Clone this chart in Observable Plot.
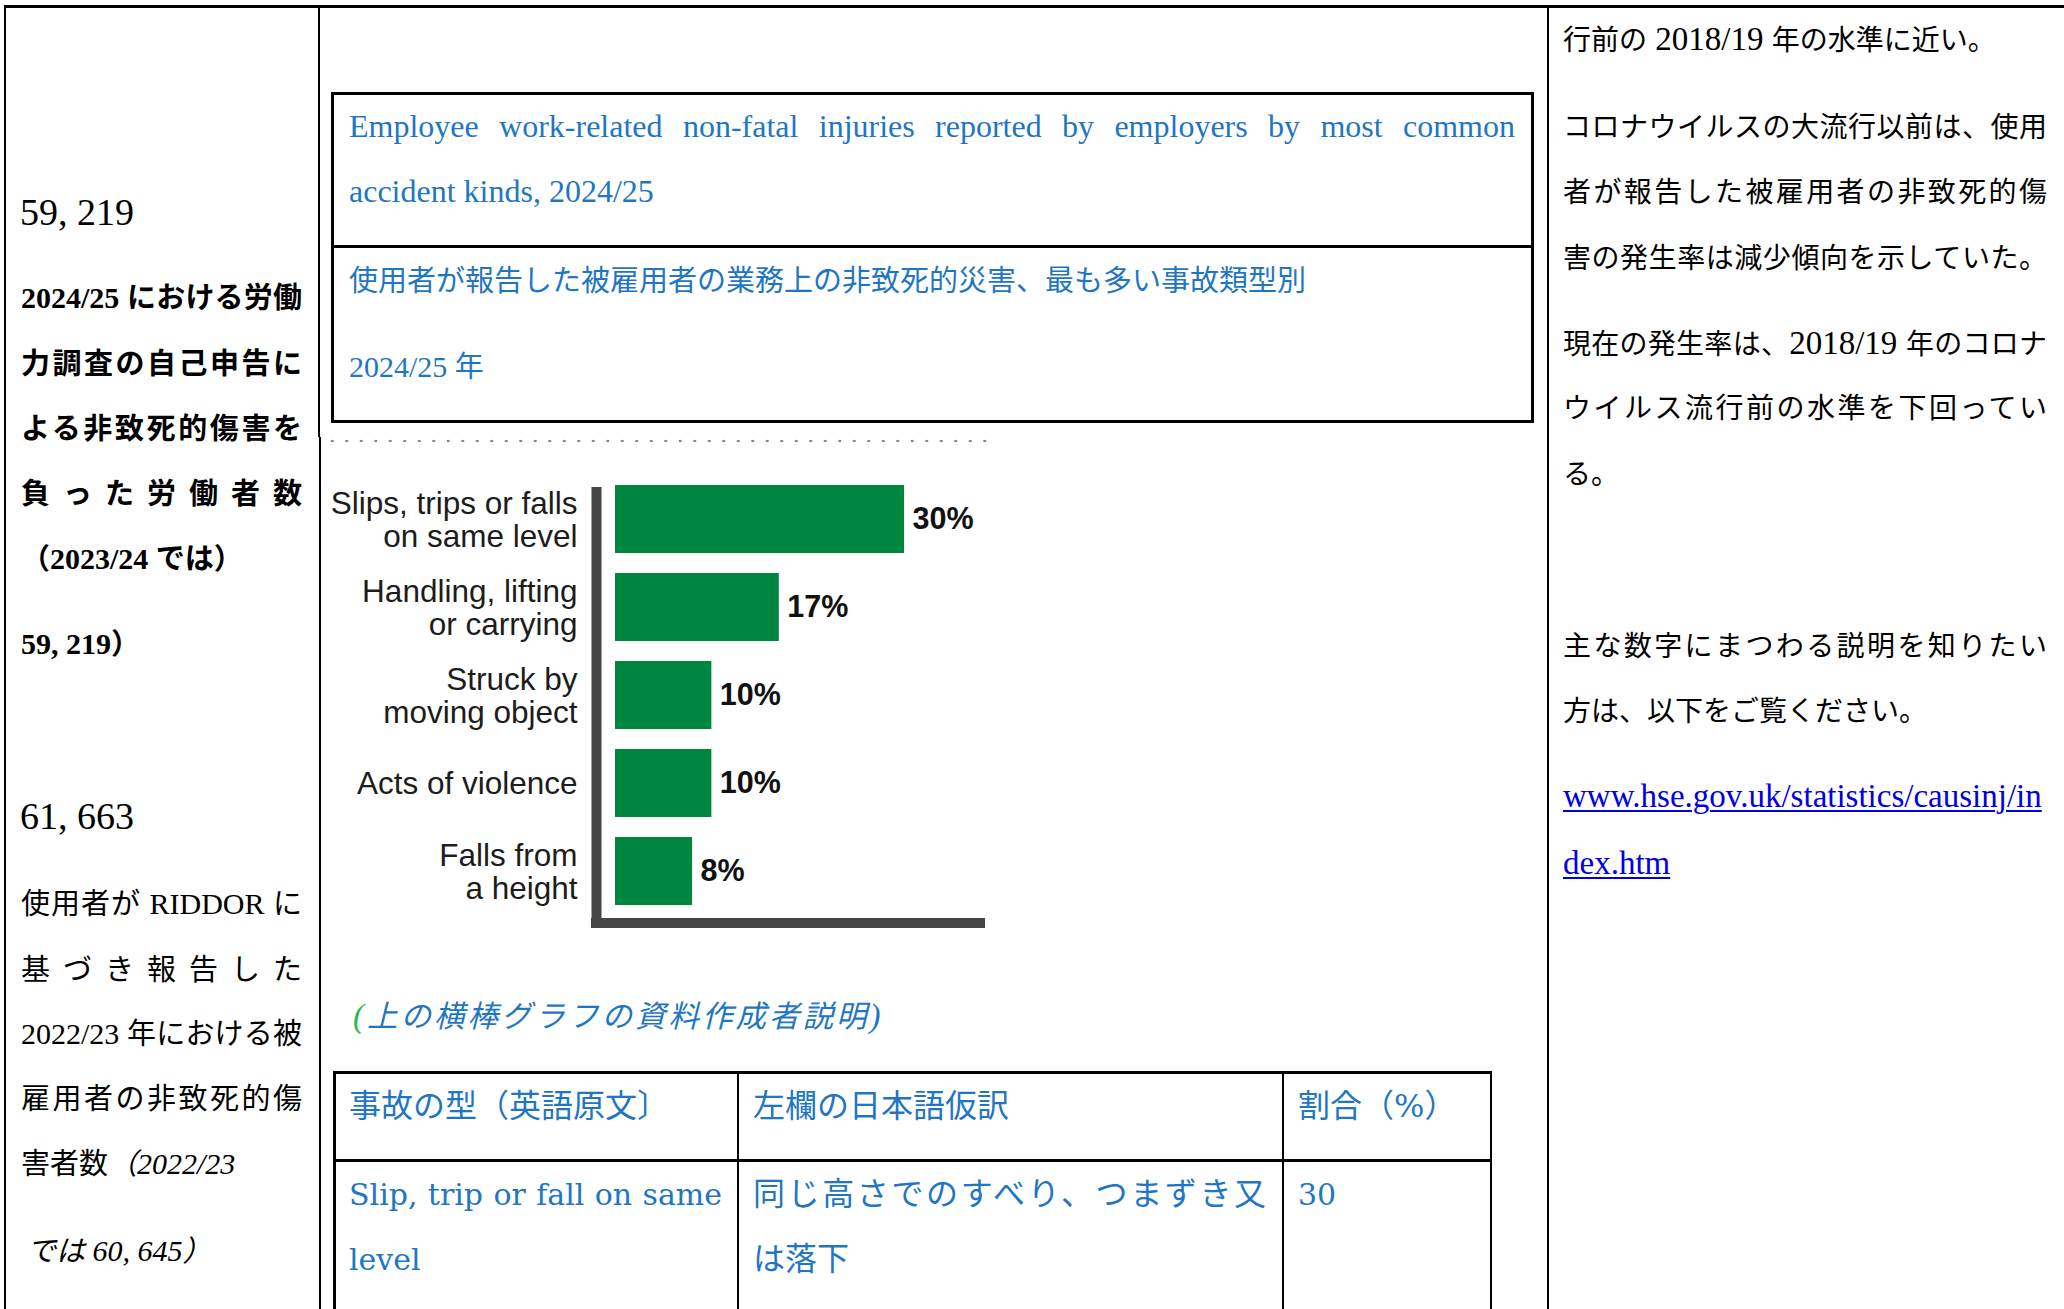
<!DOCTYPE html>
<html>
<head>
<meta charset="utf-8">
<script src="https://cdn.jsdelivr.net/npm/d3@7"></script>
<script src="https://cdn.jsdelivr.net/npm/@observablehq/plot@0.6"></script>
<style>
html, body { margin: 0; padding: 0; background: #fff; }
#page { position: relative; width: 2064px; height: 1309px; overflow: hidden; background: #fff;
  font-family: 'Noto Sans CJK JP', sans-serif; color: #000; }
.ln { position: absolute; white-space: nowrap; line-height: 40px; height: 40px; }
.j { text-align: justify; text-align-last: justify; }
.lat { font-family: 'Liberation Serif', 'Times New Roman', serif; }
.latw { font-family: 'DejaVu Serif', serif; }
.rule { position: absolute; background: #000; }
.box { position: absolute; border: 3px solid #000; box-sizing: border-box; }
</style>
</head>
<body>
<div id="page"></div>
<script>
// ---------------- chart data ----------------
const categories = [
  "Slips, trips or falls\non same level",
  "Handling, lifting\nor carrying",
  "Struck by\nmoving object",
  "Acts of violence",
  "Falls from\na height"
];
const values = [30, 17, 10, 10, 8];
const valueLabels = ["30%", "17%", "10%", "10%", "8%"];

// ---------------- page texts ----------------
const titleEnglish = [
  "Employee work-related non-fatal injuries reported by employers by most common",
  "accident kinds, 2024/25"
];
const titleJapanese = [
  "使用者が報告した被雇用者の業務上の非致死的災害、最も多い事故類型別",
  "2024/25 年"
];
const leftBlock1 = ["2024/25 における労働", "力調査の自己申告に", "よる非致死的傷害を", "負った労働者数", "（2023/24 では）", "59, 219）"];
const leftBlock2 = ["使用者が RIDDOR に", "基づき報告した", "2022/23 年における被", "雇用者の非致死的傷"];
const bigNumbers = ["59, 219", "61, 663"];
const rightLines = [
  "行前の 2018/19 年の水準に近い。",
  "コロナウイルスの大流行以前は、使用",
  "者が報告した被雇用者の非致死的傷",
  "害の発生率は減少傾向を示していた。",
  "現在の発生率は、2018/19 年のコロナ",
  "ウイルス流行前の水準を下回ってい",
  "る。",
  "主な数字にまつわる説明を知りたい",
  "方は、以下をご覧ください。"
];
const linkLines = ["www.hse.gov.uk/statistics/causinj/in", "dex.htm"];
const captionText = "上の横棒グラフの資料作成者説明";
const tableHeader = ["事故の型（英語原文〕", "左欄の日本語仮訳", "割合（%）"];
const tableRow1 = [["Slip, trip or fall on same", "level"], ["同じ高さでのすべり、つまずき又", "は落下"], ["30"]];

// ---------------- helpers ----------------
const page = document.getElementById("page");
const LH = 40;
function rule(x, y, w, h) {
  const d = document.createElement("div");
  d.className = "rule";
  Object.assign(d.style, {left: x + "px", top: y + "px", width: w + "px", height: h + "px"});
  page.appendChild(d);
}
function place({x, base, w, segs, size, lat, latClass = "lat", color = "#000", weight = "normal", justify = false, extra = {}}) {
  const d = document.createElement("div");
  d.className = "ln" + (justify ? " j" : "");
  d.style.left = x + "px";
  d.style.top = (base - (LH / 2 + 0.436 * size)) + "px";
  if (w) d.style.width = w + "px";
  d.style.fontSize = size + "px";
  d.style.color = color;
  d.style.fontWeight = weight;
  Object.assign(d.style, extra);
  d.innerHTML = segs.map(s => {
    const t = typeof s === "string" ? {t: s} : s;
    const html = t.t.replace(/[\x20-\x7E]+/g, m => `<span class="${latClass}" style="font-size:${lat}px">${m}</span>`);
    const st = (t.i ? "font-style:italic;" : "") + (t.c ? `color:${t.c};` : "");
    return st ? `<span style="${st}">${html}</span>` : html;
  }).join("");
  page.appendChild(d);
  return d;
}

// ---------------- frame lines ----------------
rule(4, 5, 2060, 3);          // top border
rule(4, 5, 2, 1304);          // left border
rule(318, 5, 2, 432);         // left column divider (upper)
rule(319, 437, 2, 872);       // left column divider (lower)
rule(1547, 5, 2, 1304);       // right column divider

// ---------------- left column ----------------
place({x: 20, base: 225, segs: [bigNumbers[0]], size: 29, lat: 38});
const lb1Base = [308, 374, 439, 504, 569, 654];
leftBlock1.forEach((t, i) => place({x: 21, base: lb1Base[i], w: 281, segs: [t], size: 29, lat: 30,
  weight: "bold", justify: i < 4}));
place({x: 20, base: 829, segs: [bigNumbers[1]], size: 29, lat: 38});
const lb2Base = [914, 980, 1044, 1109];
leftBlock2.forEach((t, i) => place({x: 21, base: lb2Base[i], w: 281, segs: [t], size: 29, lat: 30, justify: true}));
place({x: 21, base: 1174, segs: ["害者数", {t: "（2022/23", i: true}], size: 29, lat: 30});
place({x: 27, base: 1261, segs: [{t: "では 60, 645）", i: true}], size: 29, lat: 30});

// ---------------- middle column: title box ----------------
const blue = "#1f76c3";
const tb = document.createElement("div");
tb.className = "box";
Object.assign(tb.style, {left: "331px", top: "92px", width: "1203px", height: "331px"});
page.appendChild(tb);
rule(331, 245, 1203, 3);
place({x: 349, base: 137, w: 1166, segs: [titleEnglish[0]], size: 29, lat: 32, color: blue, justify: true});
place({x: 349, base: 202, segs: [titleEnglish[1]], size: 29, lat: 32, color: blue});
place({x: 349, base: 291, segs: [titleJapanese[0]], size: 29, lat: 30, color: blue});
place({x: 349, base: 377, segs: [titleJapanese[1]], size: 29, lat: 30, color: blue});

// dotted separator
const dots = document.createElement("div");
Object.assign(dots.style, {position: "absolute", left: "325px", top: "439px", width: "664px", height: "4px",
  background: "radial-gradient(circle, #8a8a8a 1.1px, transparent 1.6px) 0 0 / 14.5px 4px repeat-x"});
page.appendChild(dots);

// ---------------- chart ----------------
const data = categories.map((c, i) => ({category: c, value: values[i], label: valueLabels[i]}));
function bottomAxisLine(index, scales, vals, dims) {
  const x0 = (scales && typeof scales.x === "function" ? scales.x(0) : dims.marginLeft) - 24;
  const x1 = dims.width - dims.marginRight;
  const y = dims.height - dims.marginBottom;
  return d3.create("svg:line").attr("x1", x0).attr("x2", x1).attr("y1", y).attr("y2", y)
    .attr("stroke", "#454545").attr("stroke-width", 10).node();
}
const chart = Plot.plot({
  width: 670,
  height: 485,
  marginLeft: 295,
  marginRight: 5,
  marginTop: 35,
  marginBottom: 12,
  x: {domain: [0, 38.4], axis: null},
  y: {domain: categories, paddingInner: 0.227, paddingOuter: 0.102, align: 0, axis: null},
  style: {fontFamily: "'Liberation Sans', Arial, sans-serif", fontSize: "30px", color: "#1c1c1c", background: "transparent", overflow: "visible"},
  marks: [
    Plot.barX(data, {x: "value", y: "category", fill: "#00873f"}),
    Plot.text(data, {x: "value", y: "category", text: "label", textAnchor: "start", dx: 8,
      fontWeight: "bold", fontSize: 30.5, fill: "#111"}),
    Plot.axisY({tickSize: 0, tickPadding: 38, fontSize: 31.5, lineHeight: 1.06, label: null}),
    Plot.ruleX([0], {dx: -19, stroke: "#454545", strokeWidth: 10, insetTop: 2, insetBottom: -5}),
    bottomAxisLine
  ]
});
Object.assign(chart.style, {position: "absolute", left: "320px", top: "450px"});
page.appendChild(chart);

// ---------------- caption & table ----------------
place({x: 353, base: 1027, segs: [{t: "(", i: true, c: "#2db84a"}, {t: captionText, i: true}, {t: ")", i: true}],
  size: 30.5, lat: 33, color: blue, extra: {letterSpacing: "3px"}});
rule(333, 1071, 1159, 3);   // table top
rule(333, 1159, 1159, 3);   // header bottom
rule(333, 1071, 3, 240);    // table left
rule(737, 1071, 2, 240);    // col divider 1
rule(1282, 1071, 2, 240);   // col divider 2
rule(1490, 1071, 2, 240);   // table right
const colX = [349, 753, 1298];
tableHeader.forEach((t, i) => place({x: colX[i], base: 1117, segs: [t], size: 32, lat: 32, latClass: "latw", color: blue}));
place({x: colX[0], base: 1205, w: 373, segs: [tableRow1[0][0]], size: 30, lat: 30, latClass: "latw", color: blue, justify: true});
place({x: colX[0], base: 1270, segs: [tableRow1[0][1]], size: 30, lat: 30, latClass: "latw", color: blue});
place({x: colX[1], base: 1205, w: 513, segs: [tableRow1[1][0]], size: 32, lat: 30, color: blue, justify: true});
place({x: colX[1], base: 1270, segs: [tableRow1[1][1]], size: 32, lat: 30, color: blue});
place({x: colX[2], base: 1205, segs: [tableRow1[2][0]], size: 30, lat: 30, latClass: "latw", color: blue});

// ---------------- right column ----------------
const rBase = [50, 137, 202, 268, 354, 418, 484, 656, 721];
const rJust = [false, true, true, true, true, true, false, true, false];
rightLines.forEach((t, i) => place({x: 1563, base: rBase[i], w: 484, segs: [t], size: 28, lat: 33, justify: rJust[i]}));
const lkBase = [807, 874];
linkLines.forEach((t, i) => place({x: 1563, base: lkBase[i], segs: [t], size: 28, lat: 33, color: "#0000e6",
  extra: {textDecoration: "underline", textDecorationThickness: "2px", textUnderlineOffset: "3px"}}));
</script>
</body>
</html>
